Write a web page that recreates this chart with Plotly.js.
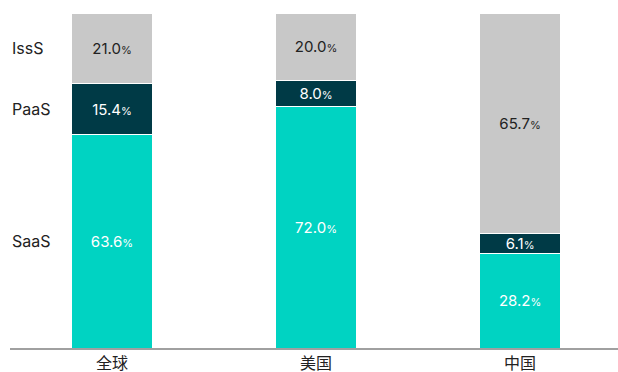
<!DOCTYPE html>
<html><head><meta charset="utf-8">
<script src="https://cdn.plot.ly/plotly-3.0.1.min.js"></script>
<style>html,body{margin:0;padding:0;background:#fff}</style>
</head><body>
<div id="chart" style="width:618px;height:372px"></div>
<script>
var categories = ['全球', '美国', '中国'];
var saas = [63.6, 72.0, 28.2];
var paas = [15.4, 8.0, 6.1];
var isss = [21.0, 20.0, 65.7];
var seriesNames = ['SaaS', 'PaaS', 'IssS'];

function labels(arr){ return arr.map(function(v){ return v.toFixed(1) + '<span style="font-size:11px">%</span>'; }); }

var colors = ['#00D3C2', '#003A46', '#C8C8C8'];
var textColors = ['#FFFFFF', '#FFFFFF', '#222222'];
var vals = [saas, paas, isss];
var traces = vals.map(function(v, i){
  return {
    type: 'bar', x: categories, y: v, name: seriesNames[i],
    marker: {color: colors[i], line: {color: '#FFFFFF', width: 1}},
    text: labels(v), textposition: 'inside', insidetextanchor: 'middle',
    textangle: 0, constraintext: 'none',
    textfont: {family: 'Inter, sans-serif', size: 15, color: textColors[i]},
    hoverinfo: 'none', width: 0.4
  };
});

var annotations = [];
var cum = 0;
for (var i = 0; i < 3; i++) {
  var mid = cum + vals[i][0] / 2;
  cum += vals[i][0];
  annotations.push({xref: 'paper', yref: 'y', x: 0, y: mid, xanchor: 'left', yanchor: 'middle',
    text: seriesNames[i], showarrow: false, font: {family: 'Inter, sans-serif', size: 16, color: '#222'}});
}

var layout = {
  width: 618, height: 372, barmode: 'stack', showlegend: false,
  margin: {l: 10, r: 0, t: 13, b: 24},
  paper_bgcolor: '#fff', plot_bgcolor: '#fff',
  xaxis: {range: [-0.5, 2.48], showline: true, linecolor: '#A0A0A0', linewidth: 2,
    ticks: '', tickfont: {family: 'Inter, "Noto Sans CJK SC", sans-serif', size: 16, color: '#222'}, fixedrange: true},
  yaxis: {range: [0, 100], visible: false, showgrid: false, zeroline: false},
  annotations: annotations
};
Plotly.newPlot('chart', traces, layout, {displayModeBar: false, staticPlot: true});
</script>
</body></html>
